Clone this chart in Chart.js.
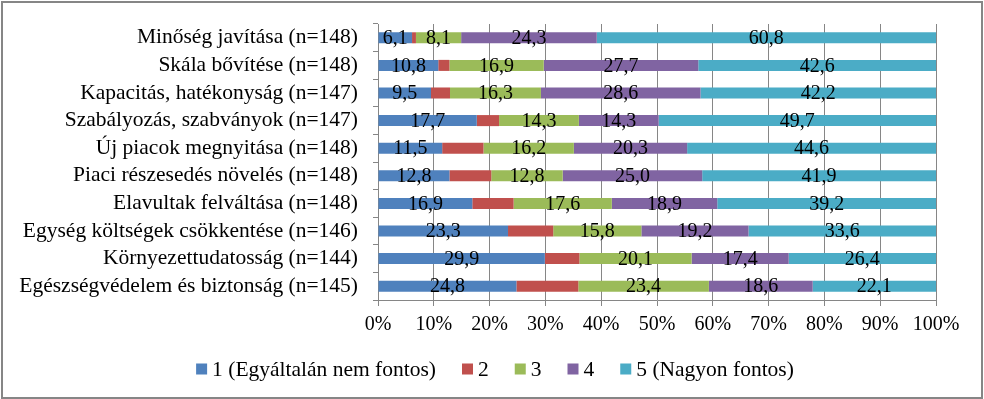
<!DOCTYPE html>
<html>
<head>
<meta charset="utf-8">
<script src="https://cdn.jsdelivr.net/npm/chart.js@4.4.1/dist/chart.umd.min.js"></script>
<style>
  html, body { margin: 0; padding: 0; background: #fff; }
  #wrap { width: 984px; height: 399px; }
</style>
</head>
<body>
<div id="wrap"><canvas id="chart" width="984" height="399"></canvas></div>
<script>
// ===== data =====
const categories = [
  "Minőség javítása (n=148)",
  "Skála bővítése (n=148)",
  "Kapacitás, hatékonyság (n=147)",
  "Szabályozás, szabványok (n=147)",
  "Új piacok megnyitása (n=148)",
  "Piaci részesedés növelés (n=148)",
  "Elavultak felváltása (n=148)",
  "Egység költségek csökkentése (n=146)",
  "Környezettudatosság (n=144)",
  "Egészségvédelem és biztonság (n=145)"
];

const seriesNames = ["1 (Egyáltalán nem fontos)", "2", "3", "4", "5 (Nagyon fontos)"];

const rating1 = [6.1, 10.8, 9.5, 17.7, 11.5, 12.8, 16.9, 23.3, 29.9, 24.8];
const rating2 = [0.7, 2.0, 3.4, 4.0, 7.4, 7.5, 7.4, 8.1, 6.2, 11.1];
const rating3 = [8.1, 16.9, 16.3, 14.3, 16.2, 12.8, 17.6, 15.8, 20.1, 23.4];
const rating4 = [24.3, 27.7, 28.6, 14.3, 20.3, 25.0, 18.9, 19.2, 17.4, 18.6];
const rating5 = [60.8, 42.6, 42.2, 49.7, 44.6, 41.9, 39.2, 33.6, 26.4, 22.1];

const xTicks = [0, 10, 20, 30, 40, 50, 60, 70, 80, 90, 100];

// ===== styles =====
const colors = ["#4F81BD", "#C0504D", "#9BBB59", "#8064A2", "#4BACC6"];
const FONT = "'Liberation Serif', 'Times New Roman', serif";
const GRID = "#868686";

const allSeries = [rating1, rating2, rating3, rating4, rating5];

// data labels (the "2" series has none in the original)
const valueLabels = {
  id: "valueLabels",
  afterDatasetsDraw(chart) {
    const ctx = chart.ctx;
    ctx.save();
    ctx.font = "20px " + FONT;
    ctx.fillStyle = "#000";
    ctx.textAlign = "center";
    ctx.textBaseline = "middle";
    chart.data.datasets.forEach((ds, i) => {
      if (i === 1) return;
      chart.getDatasetMeta(i).data.forEach((bar, j) => {
        const v = ds.data[j];
        const cx = (bar.x + bar.base) / 2;
        ctx.fillText(v.toFixed(1).replace(".", ","), cx, bar.y + 1);
      });
    });
    ctx.restore();
  }
};

// legend drawn by hand so box/text gaps match the original
const bottomLegend = {
  id: "bottomLegend",
  afterDraw(chart) {
    const ctx = chart.ctx;
    const box = 11, gap = 5, space = 26, y = 369;
    ctx.save();
    ctx.font = "21.5px " + FONT;
    ctx.textBaseline = "middle";
    ctx.textAlign = "left";
    const items = chart.data.datasets.map(ds => ({
      text: ds.label, color: ds.backgroundColor, w: ctx.measureText(ds.label).width
    }));
    const total = items.reduce((s, it) => s + box + gap + it.w, 0) + space * (items.length - 1);
    let x = 495 - total / 2;
    items.forEach(it => {
      ctx.fillStyle = it.color;
      ctx.fillRect(x, y - box / 2, box, box);
      ctx.fillStyle = "#000";
      ctx.fillText(it.text, x + box + gap, y + 1);
      x += box + gap + it.w + space;
    });
    ctx.restore();
  }
};

// outer frame
const frame = {
  id: "frame",
  afterDraw(chart) {
    const ctx = chart.ctx;
    ctx.save();
    ctx.strokeStyle = GRID;
    ctx.lineWidth = 2;
    ctx.strokeRect(2, 2, chart.width - 4, chart.height - 3);
    ctx.restore();
  }
};

new Chart(document.getElementById("chart"), {
  type: "bar",
  data: {
    labels: categories,
    datasets: allSeries.map((d, i) => ({
      label: seriesNames[i],
      data: d,
      backgroundColor: colors[i],
      borderWidth: 0,
      barPercentage: 0.8,
      categoryPercentage: 0.5
    }))
  },
  options: {
    indexAxis: "y",
    responsive: false,
    animation: false,
    layout: { padding: { top: 24, right: 48, bottom: 55, left: 0 } },
    plugins: {
      legend: { display: false },
      tooltip: { enabled: false }
    },
    scales: {
      x: {
        stacked: true,
        min: 0,
        max: 100,
        afterBuildTicks(axis) {
          axis.ticks = xTicks.map(v => ({ value: v }));
        },
        afterFit(axis) { axis.height = 44; },
        ticks: {
          font: { family: FONT, size: 20 },
          color: "#000",
          padding: 7,
          maxRotation: 0,
          callback: v => v + "%"
        },
        grid: { color: GRID, tickLength: 6, tickColor: GRID },
        border: { color: GRID }
      },
      y: {
        stacked: true,
        afterFit(axis) {
          axis.width = 378;
          axis.paddingTop = 0;
          axis.paddingBottom = 0;
        },
        ticks: {
          font: { family: FONT, size: 21.5 },
          color: "#000",
          padding: 15,
          autoSkip: false
        },
        grid: { drawOnChartArea: false, offset: true, tickLength: 5, color: GRID },
        border: { color: GRID }
      }
    }
  },
  plugins: [valueLabels, bottomLegend, frame]
});
</script>
</body>
</html>
